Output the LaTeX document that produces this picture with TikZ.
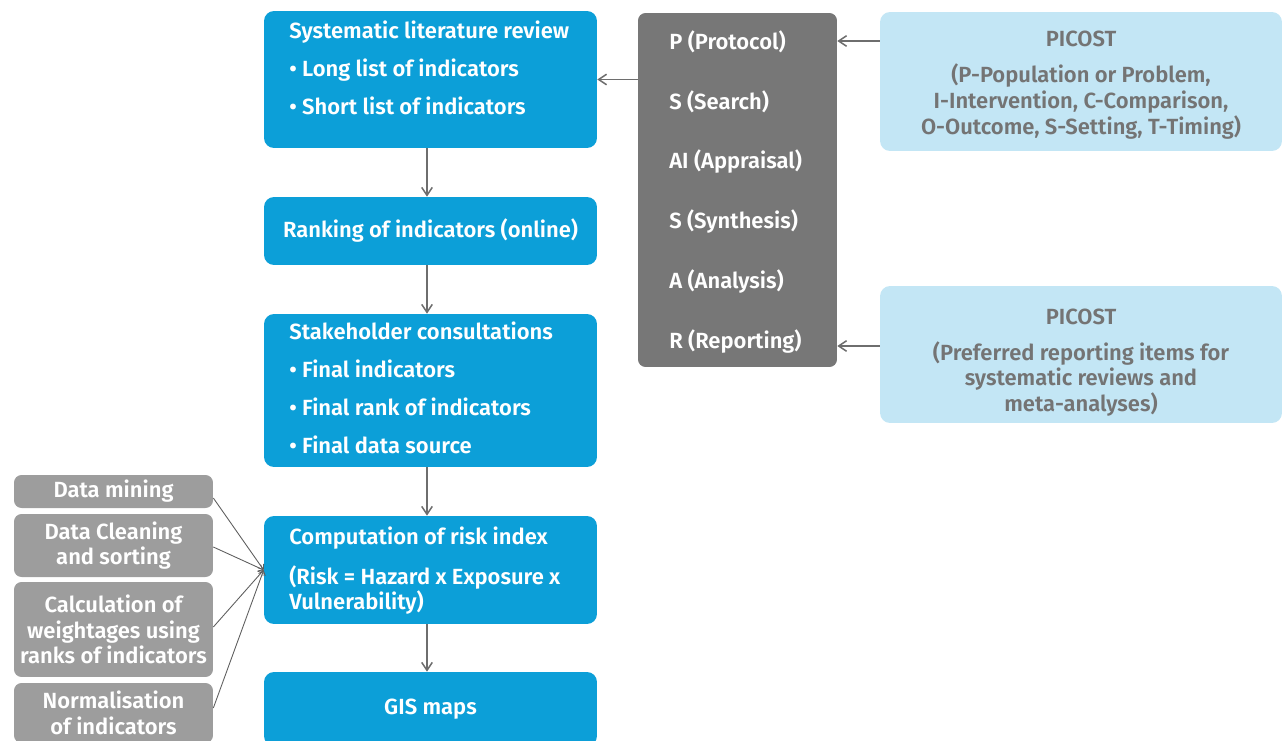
\documentclass[tikz,border=0pt]{standalone}
\usepackage{fontspec}
\setmainfont{Fira Sans}[BoldFont={Fira Sans SemiBold}]
\usepackage{xcolor}
\usetikzlibrary{arrows.meta,positioning}

\definecolor{boxblue}{HTML}{0C9FD8}
\definecolor{boxdark}{HTML}{777777}
\definecolor{boxpale}{HTML}{C3E6F5}
\definecolor{boxgrey}{HTML}{9D9D9D}
\definecolor{textgrey}{HTML}{747474}
\definecolor{linegrey}{HTML}{6E6E6E}

\begin{document}
\begin{tikzpicture}[x=0.02cm, y=-0.02cm,
    font=\fontsize{12.5}{14.6}\selectfont\bfseries,
    bluebox/.style={fill=boxblue, rounded corners=0.2cm, text=white, minimum width=6.66cm, inner sep=0pt},
    darkbox/.style={fill=boxdark, rounded corners=0.15cm, minimum width=3.98cm, minimum height=7.08cm},
    palebox/.style={fill=boxpale, rounded corners=0.2cm, minimum width=8.04cm},
    greybox/.style={fill=boxgrey, rounded corners=0.15cm, text=white, minimum width=3.98cm, align=center, inner sep=0pt},
    boxtext/.style={anchor=north west, align=left, inner sep=0pt, text=white},
    arr/.style={-{Straight Barb[length=4.5pt,width=6pt]}, linegrey, line width=0.85pt},
    thin/.style={-{Straight Barb[length=2.5pt,width=4pt]}, linegrey!85!black, line width=0.5pt}]

	\useasboundingbox (0,0) rectangle (1284,740);

	% Main steps
	\node[bluebox, minimum height=2.74cm] (srev) at (430.5,79.5) {};
	\node[bluebox, minimum height=1.36cm] (rank) at (430.5,231) {Ranking of indicators (online)};
	\node[bluebox, minimum height=3.06cm] (stake) at (430.5,390.5) {};
	\node[bluebox, minimum height=2.16cm] (comp) at (430.5,570) {};
	\node[bluebox, minimum height=1.48cm] (gis) at (430.5,709) {GIS maps};

	\node[boxtext] (srevtxt) at (289,21) {Systematic literature review\\[7pt]
		\textbullet\ Long list of indicators\\[7pt]
		\textbullet\ Short list of indicators};
	\node[boxtext] (staketxt) at (289,321.5) {Stakeholder consultations\\[7pt]
		\textbullet\ Final indicators\\[7pt]
		\textbullet\ Final rank of indicators\\[7pt]
		\textbullet\ Final data source};
	\node[boxtext] (comptxt) at (289,526.5) {Computation of risk index\\[8pt]
		(Risk = Hazard x Exposure x\\
		Vulnerability)};

	% PRISMA steps
	\node[darkbox] (prisma) at (737.5,190) {};
	\node[boxtext] (prismatxt) at (669,30) {P (Protocol)\\[19.5pt]
		S (Search)\\[19.5pt]
		AI (Appraisal)\\[19.5pt]
		S (Synthesis)\\[19.5pt]
		A (Analysis)\\[19.5pt]
		R (Reporting)};

	% Frameworks
	\node[palebox, minimum height=2.78cm] (picoa) at (1081,81.5) {};
	\node[palebox, minimum height=2.74cm] (picob) at (1081,354.5) {};
	\node[align=center, text=textgrey, inner sep=0pt] (picoatxt) at (1081,85) {PICOST\\[6pt]
		(P-Population or Problem,\\
		I-Intervention, C-Comparison,\\
		O-Outcome, S-Setting, T-Timing)};
	\node[align=center, text=textgrey, inner sep=0pt] (picobtxt) at (1081,362.5) {PICOST\\[6pt]
		(Preferred reporting items for\\
		systematic reviews and\\
		meta-analyses)};

	% Computation inputs
	\node[greybox, minimum height=0.66cm] (mine) at (113.5,491.5) {Data mining};
	\node[greybox, minimum height=1.26cm] (clean) at (113.5,545.5) {Data Cleaning\\and sorting};
	\node[greybox, minimum height=1.9cm] (weight) at (113.5,629.5) {Calculation of\\weightages using\\ranks of indicators};
	\node[greybox, minimum height=1.2cm] (norm) at (113.5,713) {Normalisation\\of indicators};

	% Connections
	\draw[arr] ([xshift=-0.07cm]srev.south) -- ([xshift=-0.07cm]rank.north);
	\draw[arr] ([xshift=-0.07cm]rank.south) -- ([xshift=-0.07cm]stake.north);
	\draw[arr] ([xshift=-0.07cm]stake.south) -- ([xshift=-0.07cm]comp.north);
	\draw[arr] ([xshift=-0.07cm]comp.south) -- ([xshift=-0.07cm]gis.north);
	\draw[arr] (srev.east -| prisma.west) -- (srev.east);
	\draw[arr] ([yshift=0.81cm]picoa.west) -- ([yshift=0.81cm]picoa.west -| prisma.east);
	\draw[arr] ([yshift=0.17cm]picob.west) -- ([yshift=0.17cm]picob.west -| prisma.east);

	\draw[thin] ([yshift=-0.13cm]mine.east) -- (comp.west);
	\draw[thin] ([yshift=-0.03cm]clean.east) -- (comp.west);
	\draw[thin] ([yshift=0.05cm]weight.east) -- (comp.west);
	\draw[thin] ([yshift=0.1cm]norm.east) -- (comp.west);
\end{tikzpicture}
\end{document}
